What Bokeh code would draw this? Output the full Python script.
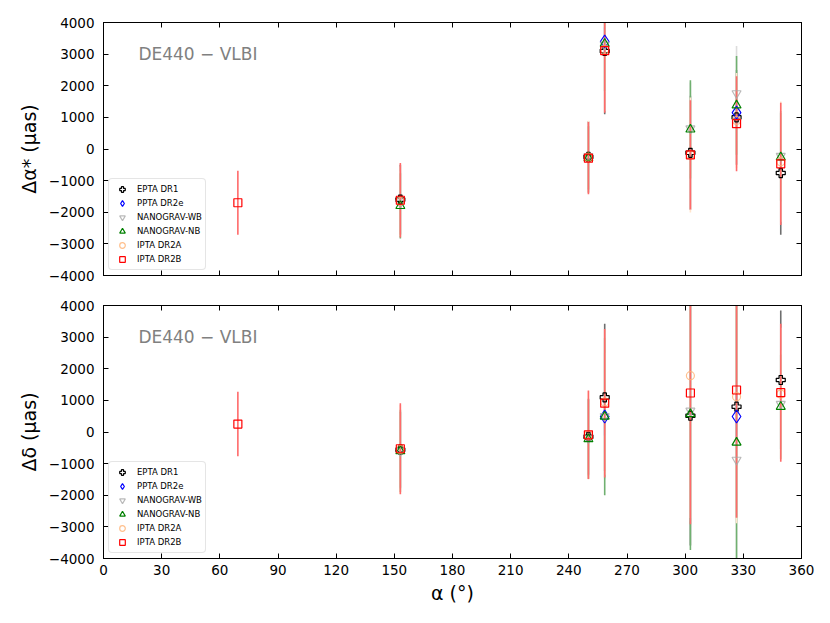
import numpy as np
from bokeh.plotting import figure
from bokeh.layouts import column
from bokeh.models import (Range1d, FixedTicker, SingleIntervalTicker, LinearAxis,
                          Legend, LegendItem, Label, CustomJSTickFormatter)
from bokeh.embed import file_html
from bokeh.resources import INLINE

FONT = "DejaVu Sans"

# ---------------- data (micro-arcseconds) ----------------
SERIES = ["EPTA DR1", "PPTA DR2e", "NANOGRAV-WB", "NANOGRAV-NB", "IPTA DR2A", "IPTA DR2B"]

EPTA_RA = [153.1, 250.1, 258.5, 302.7, 326.5, 349.3]
EPTA_DRA = [-1600, -250, 3100, -120, 1000, -760]
EPTA_DRA_ERR = [1100, 1130, 2000, 1800, 1500, 1950]
EPTA_DDEC = [-560, -150, 1094, 514, 800, 1645]
EPTA_DDEC_ERR = [1200, 1200, 2330, 4100, 3500, 2200]

PPTA_RA = [258.5, 326.5]
PPTA_DRA = [3400, 1150]
PPTA_DRA_ERR = [450, 400]
PPTA_DDEC = [491, 491]
PPTA_DDEC_ERR = [600, 700]

WB_RA = [153.1, 250.1, 258.5, 302.7, 326.5, 349.3]
WB_DRA = [-1700, -230, 3300, 650, 1760, -220]
WB_DRA_ERR = [1000, 1000, 1500, 1450, 1500, 1400]
WB_DDEC = [-600, -200, 500, 672, -881, 885]
WB_DDEC_ERR = [1200, 1200, 2000, 3500, 3500, 1700]

NB_RA = [153.1, 250.1, 258.5, 302.7, 326.5, 349.3]
NB_DRA = [-1800, -280, 3330, 620, 1380, -260]
NB_DRA_ERR = [1030, 1000, 1500, 1550, 1560, 1400]
NB_DDEC = [-600, -225, 491, 567, -333, 800]
NB_DDEC_ERR = [1300, 1250, 2490, 4300, 4500, 1650]

DR2A_RA = [153.1, 250.1, 258.5, 302.7, 326.5, 349.3]
DR2A_DRA = [-1650, -260, 3150, -190, 900, -400]
DR2A_DRA_ERR = [1100, 1150, 1950, 1820, 1500, 1900]
DR2A_DDEC = [-550, -100, 950, 1782, 1116, 1200]
DR2A_DDEC_ERR = [1400, 1400, 2300, 4500, 4000, 2100]

DR2B_RA = [69.3, 153.1, 250.1, 258.5, 302.7, 326.5, 349.3]
DR2B_DRA = [-1700, -1620, -290, 3110, -185, 800, -470]
DR2B_DRA_ERR = [1010, 1180, 1140, 1960, 1725, 1500, 1930]
DR2B_DDEC = [250, -530, -90, 910, 1233, 1328, 1243]
DR2B_DDEC_ERR = [1020, 1440, 1400, 2350, 4150, 4040, 2180]

X_TICKS = list(range(0, 361, 30))

STYLE = {
    "EPTA DR1":    dict(marker="plus", color="black", alpha=1.0, ecolor="#6e6e6e", size=9),
    "PPTA DR2e":   dict(marker="diamond", color="blue", alpha=1.0, ecolor="#7070ff", size=13),
    "NANOGRAV-WB": dict(marker="inverted_triangle", color="#a8a8a8", alpha=0.8, ecolor="#dcdcdc", size=9),
    "NANOGRAV-NB": dict(marker="triangle", color="green", alpha=1.0, ecolor="#70b070", size=9),
    "IPTA DR2A":   dict(marker="circle", color="#ffb070", alpha=0.8, ecolor="#ffe4cc", size=8),
    "IPTA DR2B":   dict(marker="square", color="red", alpha=1.0, ecolor="#ff6a6a", size=8),
}

TOP = {
    "EPTA DR1": (EPTA_RA, EPTA_DRA, EPTA_DRA_ERR),
    "PPTA DR2e": (PPTA_RA, PPTA_DRA, PPTA_DRA_ERR),
    "NANOGRAV-WB": (WB_RA, WB_DRA, WB_DRA_ERR),
    "NANOGRAV-NB": (NB_RA, NB_DRA, NB_DRA_ERR),
    "IPTA DR2A": (DR2A_RA, DR2A_DRA, DR2A_DRA_ERR),
    "IPTA DR2B": (DR2B_RA, DR2B_DRA, DR2B_DRA_ERR),
}
BOTTOM = {
    "EPTA DR1": (EPTA_RA, EPTA_DDEC, EPTA_DDEC_ERR),
    "PPTA DR2e": (PPTA_RA, PPTA_DDEC, PPTA_DDEC_ERR),
    "NANOGRAV-WB": (WB_RA, WB_DDEC, WB_DDEC_ERR),
    "NANOGRAV-NB": (NB_RA, NB_DDEC, NB_DDEC_ERR),
    "IPTA DR2A": (DR2A_RA, DR2A_DDEC, DR2A_DDEC_ERR),
    "IPTA DR2B": (DR2B_RA, DR2B_DDEC, DR2B_DDEC_ERR),
}

minus_fmt = "return tick < 0 ? '\u2212' + Math.abs(tick).toFixed(0) : tick.toFixed(0);"


def style_axis(ax, show_labels):
    ax.major_tick_in = 5
    ax.major_tick_out = 0
    ax.minor_tick_line_color = None
    ax.axis_line_color = "black"
    ax.major_tick_line_color = "black"
    ax.major_label_text_font = FONT
    ax.major_label_text_color = "black"
    ax.major_label_text_font_size = "13.5px"
    ax.axis_label_text_font = FONT
    ax.axis_label_text_font_style = "normal"
    ax.axis_label_text_font_size = "19px"
    ax.axis_label_text_color = "black"
    if not show_labels:
        ax.formatter = CustomJSTickFormatter(code="return '';")
        ax.major_label_standoff = 0


def panel(data, ylabel, bottom):
    p = figure(frame_width=698, frame_height=253,
               x_range=Range1d(0, 360), y_range=Range1d(-4000, 4000),
               output_backend="svg", toolbar_location=None,
               min_border_left=103, min_border_right=21,
               min_border_top=22 if not bottom else 15,
               min_border_bottom=15 if not bottom else 56,
               background_fill_color="white", border_fill_color="white")
    p.xgrid.grid_line_color = None
    p.ygrid.grid_line_color = None
    p.outline_line_color = "black"
    p.outline_line_width = 1

    xt = FixedTicker(ticks=X_TICKS)
    yt = SingleIntervalTicker(interval=1000)
    p.xaxis.ticker = xt
    p.yaxis.ticker = yt
    p.yaxis.formatter = CustomJSTickFormatter(code=minus_fmt)
    style_axis(p.yaxis[0], True)
    style_axis(p.xaxis[0], bottom)
    p.yaxis.axis_label = ylabel
    p.yaxis.major_label_standoff = 5
    p.yaxis.axis_label_standoff = 6
    if bottom:
        p.xaxis.axis_label = "α (°)"
        p.xaxis.major_label_standoff = 6
        p.xaxis.axis_label_standoff = 4

    right = LinearAxis(ticker=yt)
    style_axis(right, False)
    p.add_layout(right, "right")
    top = LinearAxis(ticker=xt)
    style_axis(top, False)
    p.add_layout(top, "above")

    # error bars
    for name in SERIES:
        ra, v, e = data[name]
        st = STYLE[name]
        ra = np.asarray(ra, float); v = np.asarray(v, float); e = np.asarray(e, float)
        p.segment(x0=ra, y0=v - e, x1=ra, y1=v + e, line_color=st["ecolor"],
                  line_width=1.6)
    # markers
    items = []
    for name in SERIES:
        ra, v, e = data[name]
        st = STYLE[name]
        r = p.scatter(x=ra, y=v, marker=st["marker"], size=st["size"],
                      fill_color=None, line_color=st["color"], line_alpha=st["alpha"],
                      line_width=1.2)
        items.append(LegendItem(label=name, renderers=[r]))

    leg = Legend(items=items, location="bottom_left")
    leg.label_text_font = FONT
    leg.label_text_font_size = "8.5px"
    leg.label_text_color = "black"
    leg.glyph_width = 20
    leg.glyph_height = 14
    leg.label_height = 12
    leg.label_standoff = 5
    leg.spacing = 0
    leg.padding = 3
    leg.margin = 5
    leg.border_line_color = "#cccccc"
    leg.border_line_width = 1
    leg.background_fill_alpha = 0.8
    try:
        leg.border_radius = 4
    except Exception:
        pass
    p.add_layout(leg)

    p.add_layout(Label(x=18, y=3000, text="DE440 \u2212 VLBI", text_font=FONT,
                       text_font_size="17px", text_color="#808080",
                       text_baseline="middle"))
    return p


p1 = panel(TOP, "Δα* (μas)", False)
p2 = panel(BOTTOM, "Δδ (μas)", True)
layout = column(p1, p2, spacing=0)

open("out.html", "w").write(file_html(layout, INLINE))
